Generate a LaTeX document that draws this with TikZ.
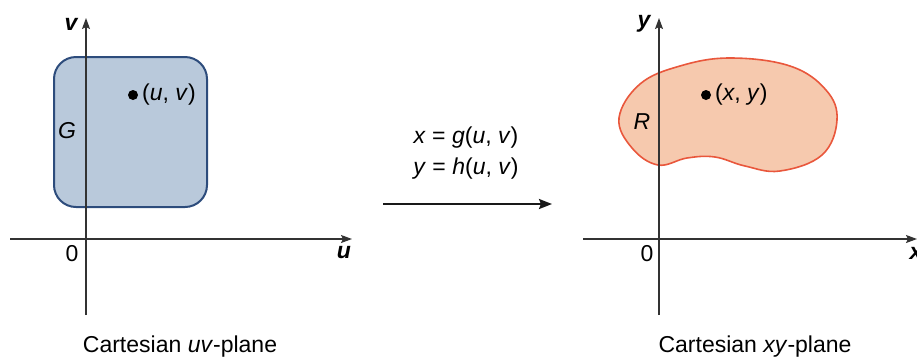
\documentclass[tikz,border=0pt]{standalone}
\usepackage{fontspec}
\setmainfont{Liberation Sans}
\usetikzlibrary{arrows.meta}
\definecolor{sqfill}{HTML}{B9C9DB}
\definecolor{sqline}{HTML}{2D4C7C}
\definecolor{blobfill}{HTML}{F6C9AE}
\definecolor{blobline}{HTML}{E9573C}
\definecolor{axisc}{HTML}{333333}
\tikzset{
  axis/.style={draw=axisc, line width=1.2pt, -{Stealth[length=11pt,width=8pt,inset=2pt]}},
  lbl/.style={font=\fontsize{23}{27}\selectfont, inner sep=0pt},
  axlbl/.style={font=\fontsize{23}{27}\selectfont\bfseries\itshape, inner sep=0pt},
  dotp/.style={circle, fill=black, inner sep=0pt, minimum size=10pt},
}
\begin{document}
\begin{tikzpicture}[x=1pt,y=-1pt]
\useasboundingbox (0,0) rectangle (917,360);
% left panel
\draw[sqline, fill=sqfill, line width=2pt, rounded corners=22pt] (54,57) rectangle (207,207);
\coordinate (vb) at (86,315); \coordinate (vt) at (86,18);
\coordinate (ul) at (10,239); \coordinate (ur) at (352,239);
\draw[axis] (vb) -- (vt);
\draw[axis] (ul) -- (ur);
\node[axlbl] (vlab) at (71,24) {v};
\node[axlbl] (ulab) at (344,253) {u};
\node[lbl] (o1) at (72,254) {0};
\node[lbl] (G) at (67,131) {\textit{G}};
\node[dotp] (p1) at (133,95) {};
\node[lbl, anchor=west] (p1l) at (142,95) {(\textit{u}, \textit{v})};
\node[lbl] (cap1) at (180,347) {Cartesian \textit{uv}-plane};
% middle
\node[lbl] (eq1) at (466,138) {\textit{x} = \textit{g}(\textit{u}, \textit{v})};
\node[lbl] (eq2) at (466,169) {\textit{y} = \textit{h}(\textit{u}, \textit{v})};
\coordinate (a1) at (383,204); \coordinate (a2) at (552,204);
\draw[draw=black!90, line width=2.2pt, -{Stealth[length=13pt,width=10pt,inset=2pt]}] (a1) -- (a2);
% right panel
\draw[blobline, fill=blobfill, line width=1.6pt] plot[smooth cycle, tension=0.65] coordinates {
 (619,118) (640,84) (680,66) (730,58) (790,66) (826,90) (837,120) (822,155) (780,171) (745,166) (715,157) (687,158) (658,165) (632,148)};
\coordinate (yb) at (659,315); \coordinate (yt) at (659,18);
\coordinate (xl) at (583,239); \coordinate (xr) at (917,239);
\draw[axis] (yb) -- (yt);
\draw[axis] (xl) -- (xr);
\node[axlbl] (ylab) at (644,24) {y};
\node[axlbl] (xlab) at (916,253) {x};
\node[lbl] (o2) at (647,254) {0};
\node[lbl] (R) at (642,122) {\textit{R}};
\node[dotp] (p2) at (706,95) {};
\node[lbl, anchor=west] (p2l) at (715,95) {(\textit{x}, \textit{y})};
\node[lbl] (cap2) at (755,347) {Cartesian \textit{xy}-plane};
\end{tikzpicture}
\end{document}
